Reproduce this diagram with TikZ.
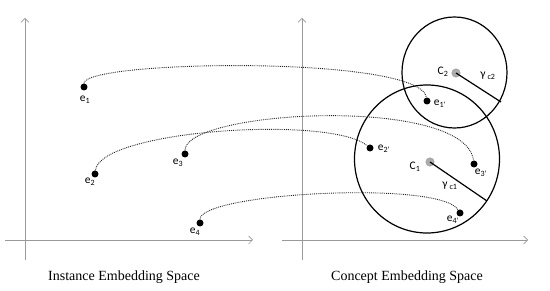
\documentclass[tikz,border=0pt]{standalone}
\usepackage{fontspec}
\setmainfont{Liberation Serif}
\newfontfamily\carlito{Carlito}
\usetikzlibrary{arrows.meta,calc}

\tikzset{
  dot/.style={circle, fill=black, inner sep=0pt, minimum size=7pt},
  centre/.style={circle, fill=gray!65, draw=gray!80, inner sep=0pt, minimum size=8.5pt},
  lbl/.style={font=\carlito\fontsize{11.5}{13}\selectfont, inner sep=0pt},
  link/.style={densely dotted, line width=0.9pt, black!85},
  axis/.style={gray!80, line width=0.6pt, -{Straight Barb[length=4pt,width=8pt]}},
  ball/.style={line width=1.2pt},
}

\begin{document}
\begin{tikzpicture}[x=1pt, y=-1pt]
    \useasboundingbox (0,0) rectangle (550,291);

    % Axes
    \coordinate (lo1) at (25,260);   \coordinate (ltop) at (25,18);
    \coordinate (lo2) at (5,240);    \coordinate (lend) at (253,240);
    \coordinate (ro1) at (302,260);  \coordinate (rtop) at (302,18);
    \coordinate (ro2) at (282,240);  \coordinate (rend) at (528,240);
    \draw[axis] (lo1) -- (ltop);
    \draw[axis] (lo2) -- (lend);
    \draw[axis] (ro1) -- (rtop);
    \draw[axis] (ro2) -- (rend);

    % Concept balls
    \coordinate (k2) at (454.5,72.5);
    \coordinate (k1) at (427,159);
    \draw[ball] (k2) ellipse (52.5pt and 55.5pt);
    \draw[ball] (k1) ellipse (72.5pt and 74pt);

    \node[centre] (c2) at (456,73) {};
    \node[centre] (c1) at (430,162) {};
    \coordinate (r2) at (501,102);
    \coordinate (r1) at (487,201);
    \draw[ball] (c2.center) -- (r2);
    \draw[ball] (c1.center) -- (r1);
    \node[lbl] at (443,72) {C\textsubscript{2}};
    \node[lbl] at (415,167) {C\textsubscript{1}};
    \node[lbl] at (488,76) {γ\,\textsubscript{c2}};
    \node[lbl] at (450,186) {γ\,\textsubscript{c1}};

    % Instances
    \node[dot] (e1) at (84,87) {};
    \node[dot] (e2) at (95,174) {};
    \node[dot] (e3) at (185,154) {};
    \node[dot] (e4) at (200,223) {};
    \node[lbl] at (85,100) {e\textsubscript{1}};
    \node[lbl] at (90,182) {e\textsubscript{2}};
    \node[lbl] at (178,163) {e\textsubscript{3}};
    \node[lbl] at (195,232) {e\textsubscript{4}};

    % Mapped instances
    \node[dot] (e1p) at (427,101) {};
    \node[dot] (e2p) at (370,148) {};
    \node[dot] (e3p) at (474,164) {};
    \node[dot] (e4p) at (460,213) {};
    \node[lbl] at (440,104) {e\textsubscript{1'}};
    \node[lbl] at (384,149) {e\textsubscript{2'}};
    \node[lbl] at (481,173) {e\textsubscript{3'}};
    \node[lbl] at (453,220) {e\textsubscript{4'}};

    % Embedding links
    \draw[link] (e1) .. controls +(0,-27) and +(-7,-46) .. (e1p);
    \draw[link] (e2) .. controls +(5,-44) and +(-40,-33) .. (e2p);
    \draw[link] (e3) .. controls +(0,-44) and +(-9,-69) .. (e3p);
    \draw[link] (e4) .. controls +(0,-30) and +(-20,-33) .. (e4p);

    % Captions
    \node[font=\fontsize{14}{16}\selectfont] (inst) at (124,277) {Instance Embedding Space};
    \node[font=\fontsize{14}{16}\selectfont] (conc) at (407,277) {Concept Embedding Space};
\end{tikzpicture}
\end{document}
